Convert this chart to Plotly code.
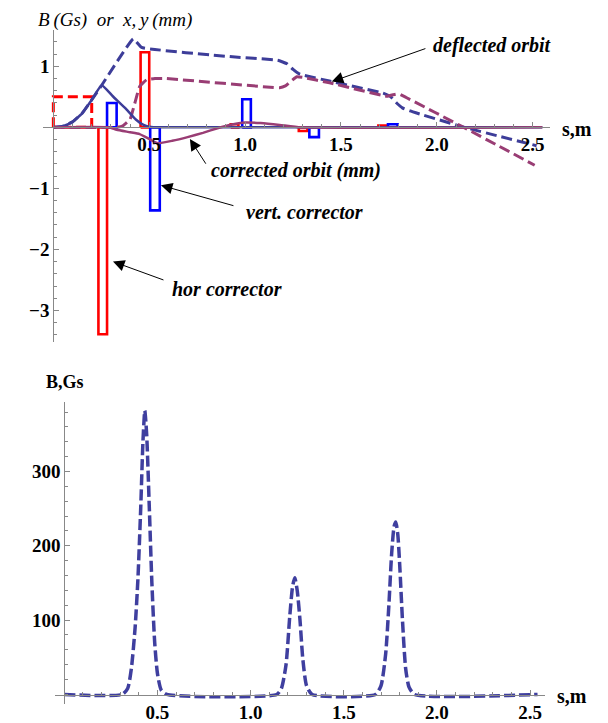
import plotly.graph_objects as go

# ---------------- data (top panel) ----------------
# initial (deflecting) field region, hor. plane
kick_s0, kick_s1, kick_B = 0.0, 0.20, 0.5

# horizontal corrector fields (rectangles)
hor_s0 = [0.235, 0.455, 0.925, 1.28, 1.695]
hor_s1 = [0.28, 0.50, 0.965, 1.325, 1.74]
hor_B = [-3.39, 1.23, 0.05, -0.06, 0.03]

# vertical corrector fields (rectangles)
ver_s0 = [0.28, 0.505, 0.985, 1.335, 1.745]
ver_s1 = [0.33, 0.555, 1.03, 1.385, 1.795]
ver_B = [0.40, -1.36, 0.46, -0.16, 0.05]

# deflected orbit, x (mm)
defx_s = [0, 0.05, 0.10, 0.15, 0.20, 0.252, 0.417, 0.46, 0.92, 1.17, 1.22, 1.25,
          1.28, 1.31, 1.44, 1.72, 1.76, 1.79, 1.82, 1.86, 1.91, 2.144, 2.52]
defx_y = [0, 0.02, 0.09, 0.23, 0.45, 0.69, 1.45, 1.31, 1.16, 1.10, 1.04, 0.95,
          0.88, 0.85, 0.76, 0.56, 0.50, 0.40, 0.32, 0.27, 0.22, 0.0, -0.30]

# deflected orbit, y (mm)
defy_s = [0, 0.33, 0.36, 0.40, 0.426, 0.45, 0.486, 0.53, 0.59, 1.18, 1.21, 1.24,
          1.27, 1.30, 1.44, 1.74, 1.78, 1.80, 1.84, 2.14, 2.51]
defy_y = [0, 0, 0.02, 0.13, 0.41, 0.67, 0.78, 0.80, 0.80, 0.65, 0.68, 0.76,
          0.83, 0.82, 0.73, 0.51, 0.54, 0.55, 0.49, 0.0, -0.62]

# corrected orbit, x (mm)
corx_s = [0, 0.05, 0.10, 0.15, 0.20, 0.252, 0.31, 0.38, 0.43, 0.47, 0.51, 0.55, 2.55]
corx_y = [0, 0.02, 0.09, 0.23, 0.45, 0.69, 0.51, 0.30, 0.13, 0.04, 0.005, 0, 0]

# corrected orbit, y (mm)
cory_s = [0, 0.29, 0.33, 0.40, 0.45, 0.50, 0.545, 0.62, 0.70, 0.78, 0.86, 0.92,
          1.00, 1.08, 1.18, 1.29, 2.55]
cory_y = [0, 0, -0.04, -0.08, -0.11, -0.19, -0.26, -0.22, -0.16, -0.09, -0.01, 0.04,
          0.08, 0.07, 0.04, 0, 0]

# ---------------- data (bottom panel) ----------------
field_s = [0, 0.31, 0.34, 0.36, 0.38, 0.395, 0.41, 0.422, 0.432, 0.442, 0.455, 0.47,
           0.485, 0.50, 0.52, 0.55,
           1.14, 1.165, 1.19, 1.21, 1.225, 1.237, 1.25, 1.265, 1.28, 1.30, 1.33,
           1.67, 1.70, 1.725, 1.742, 1.757, 1.77, 1.779, 1.79, 1.80, 1.815, 1.832,
           1.85, 1.88, 2.54]
field_B = [0, 0, 8, 35, 90, 155, 250, 340, 382, 350, 260, 150,
           70, 28, 6, 0,
           0, 8, 40, 105, 145, 157, 140, 100, 48, 12, 0,
           0, 12, 55, 120, 190, 226, 232, 215, 175, 100, 35,
           10, 0, 0]

xticks = [0.5, 1.0, 1.5, 2.0, 2.5]
xticktext = ["0.5", "1.0", "1.5", "2.0", "2.5"]
yticks_top = [-3, -2, -1, 1]
yticktext_top = ["\u22123", "\u22122", "\u22121", "1"]
yticks_bot = [100, 200, 300]

# ---------------- colours / styles ----------------
NAVY = "#3d3d99"
PURPLE = "#993d74"
RED = "#ff0000"
BLUE = "#0000ff"
AX = "#888888"
FONT = "Liberation Serif"

W, H = 608, 723


def rects(s0, s1, v):
    xs, ys = [], []
    for a, b, c in zip(s0, s1, v):
        xs += [a, a, b, b, a, None]
        ys += [0, c, c, 0, 0, None]
    return xs, ys


fig = go.Figure()

# initial field (dashed red box)
kx, ky = rects([kick_s0], [kick_s1], [kick_B])
fig.add_trace(go.Scatter(x=kx, y=ky, mode="lines",
                         line=dict(color=RED, width=3, dash="10px,5px"),
                         xaxis="x", yaxis="y", hoverinfo="skip"))
# correctors
hx, hy = rects(hor_s0, hor_s1, hor_B)
fig.add_trace(go.Scatter(x=hx, y=hy, mode="lines", line=dict(color=RED, width=2.6),
                         xaxis="x", yaxis="y", hoverinfo="skip"))
vx, vy = rects(ver_s0, ver_s1, ver_B)
fig.add_trace(go.Scatter(x=vx, y=vy, mode="lines", line=dict(color=BLUE, width=2.6),
                         xaxis="x", yaxis="y", hoverinfo="skip"))
# deflected orbits
fig.add_trace(go.Scatter(x=defx_s, y=defx_y, mode="lines",
                         line=dict(color=NAVY, width=3, dash="11px,5px", shape="spline", smoothing=0.3),
                         xaxis="x", yaxis="y"))
fig.add_trace(go.Scatter(x=defy_s, y=defy_y, mode="lines",
                         line=dict(color=PURPLE, width=3, dash="11px,5px", shape="spline", smoothing=0.3),
                         xaxis="x", yaxis="y"))
# corrected orbits
fig.add_trace(go.Scatter(x=corx_s, y=corx_y, mode="lines",
                         line=dict(color=NAVY, width=2.5, shape="spline", smoothing=0.4),
                         xaxis="x", yaxis="y"))
fig.add_trace(go.Scatter(x=cory_s, y=cory_y, mode="lines",
                         line=dict(color=PURPLE, width=2.5, shape="spline", smoothing=0.4),
                         xaxis="x", yaxis="y"))

# bottom: field
fig.add_trace(go.Scatter(x=field_s, y=field_B, mode="lines",
                         line=dict(color="#3f3f9f", width=3.5, dash="11px,4px",
                                   shape="spline", smoothing=0.6),
                         xaxis="x2", yaxis="y2"))

tickfont = dict(family=FONT, size=19, color="black", weight="bold")

common_x = dict(showgrid=False, zeroline=False, showline=True, linecolor=AX, linewidth=1.2,
                ticks="inside", ticklen=5, tickcolor=AX, tickwidth=1,
                tickvals=xticks, ticktext=xticktext, tickfont=tickfont,
                minor=dict(dtick=0.1, tick0=0, ticks="inside", ticklen=3, tickcolor=AX),
                anchor="free", fixedrange=True)

fig.update_layout(
    width=W, height=H, margin=dict(l=0, r=0, t=0, b=0),
    paper_bgcolor="white", plot_bgcolor="white", showlegend=False,
    xaxis=dict(common_x, domain=[43 / W, 550 / W], range=[-0.054, 2.59],
               position=1 - 128.3 / H),
    yaxis=dict(domain=[1 - 345 / H, 1 - 30 / H], range=[-3.52, 1.6],
               showgrid=False, zeroline=False, showline=True, linecolor=AX, linewidth=1.2,
               ticks="inside", ticklen=5, tickcolor=AX,
               tickvals=yticks_top, ticktext=yticktext_top, tickfont=tickfont,
               minor=dict(dtick=0.2, tick0=0, ticks="inside", ticklen=3, tickcolor=AX),
               anchor="free", position=53.3 / W, fixedrange=True),
    xaxis2=dict(common_x, domain=[55 / W, 545 / W], range=[-0.05, 2.58],
                position=1 - 700.7 / H),
    yaxis2=dict(domain=[1 - 710 / H, 1 - 405 / H], range=[-13, 394],
                showgrid=False, zeroline=False, showline=True, linecolor=AX, linewidth=1.2,
                ticks="inside", ticklen=5, tickcolor=AX,
                tickvals=yticks_bot, tickfont=tickfont,
                minor=dict(dtick=20, tick0=0, ticks="inside", ticklen=3, tickcolor=AX),
                anchor="free", position=64.3 / W, fixedrange=True),
)

lab = dict(family=FONT, size=20, color="black", weight="bold", style="italic")
ann = []
# arrows (tip -> tail in data coords of top panel)
arrows = [((1.452, 0.75), (1.948, 1.30)),
          ((0.712, -0.19), (0.80, -0.62)),
          ((0.561, -0.95), (0.947, -1.29)),
          ((0.311, -2.20), (0.582, -2.51))]
for (tx, ty), (ax_, ay_) in arrows:
    ann.append(dict(x=tx, y=ty, ax=ax_, ay=ay_, xref="x", yref="y", axref="x", ayref="y",
                    text="", showarrow=True, arrowhead=2, arrowsize=2.3, arrowwidth=1,
                    arrowcolor="black"))
texts = [("deflected orbit", 2.29, 1.35),
         ("corrected orbit (mm)", 1.267, -0.70),
         ("vert. corrector", 1.31, -1.39),
         ("hor corrector", 0.905, -2.65)]
for t, x, y in texts:
    ann.append(dict(x=x, y=y, xref="x", yref="y", text=t, showarrow=False, font=lab,
                    xanchor="center", yanchor="middle"))

ann.append(dict(x=114.5 / W, y=1 - 20 / H, xref="paper", yref="paper",
                text="B\u2009(Gs)  or  x,\u2009y\u2009(mm)", showarrow=False,
                font=dict(family=FONT, size=19, color="black", style="italic"),
                xanchor="center", yanchor="middle"))
ann.append(dict(x=577 / W, y=1 - 130 / H, xref="paper", yref="paper", text="s,m",
                showarrow=False, font=dict(family=FONT, size=20, color="black", weight="bold"),
                xanchor="center", yanchor="middle"))
ann.append(dict(x=572 / W, y=1 - 702 / H, xref="paper", yref="paper", text="s,m",
                showarrow=False, font=dict(family=FONT, size=20, color="black", weight="bold"),
                xanchor="center", yanchor="middle"))
ann.append(dict(x=65 / W, y=1 - 385 / H, xref="paper", yref="paper", text="B,Gs",
                showarrow=False, font=dict(family=FONT, size=18, color="black", weight="bold"),
                xanchor="center", yanchor="middle"))
fig.update_layout(annotations=ann)

fig.write_html("out.html")
